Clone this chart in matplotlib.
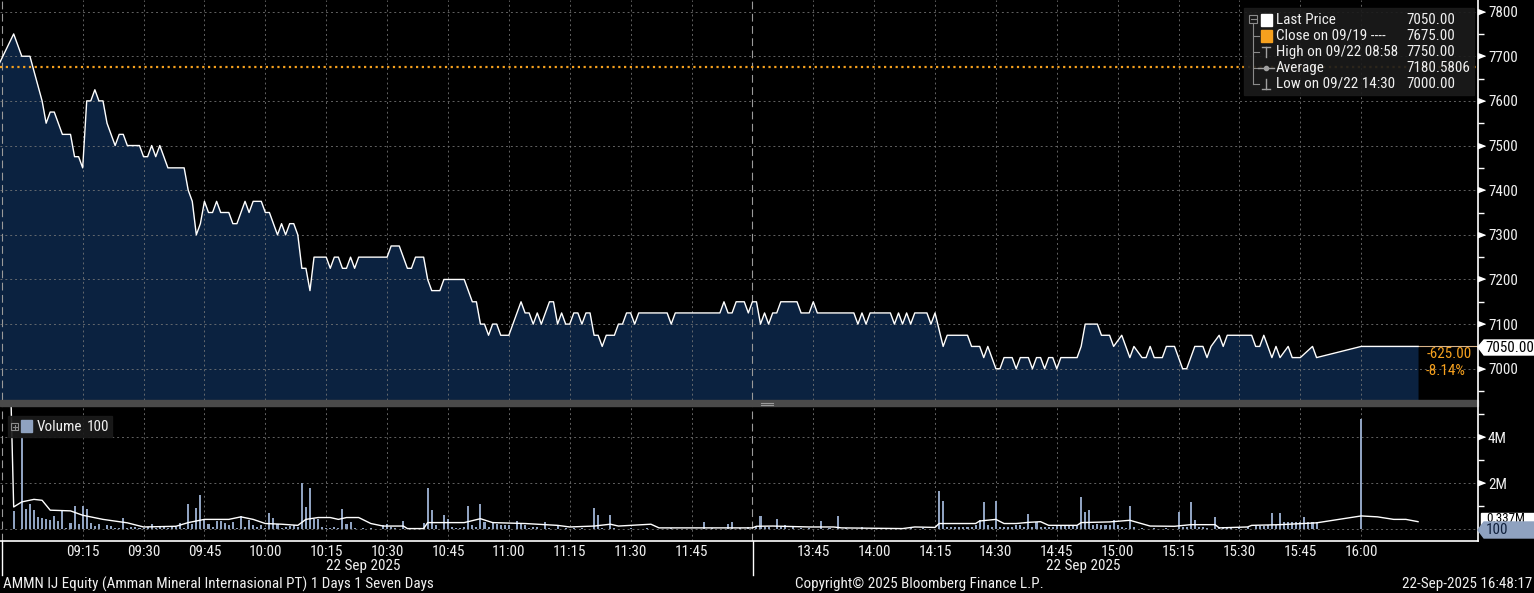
import os
import matplotlib
matplotlib.use("Agg")
import matplotlib.pyplot as plt
import matplotlib.transforms as mtransforms
from matplotlib import font_manager as fm
from matplotlib.patches import Rectangle, Polygon
from matplotlib.lines import Line2D

# ---- values (time, value) ----
price_am = [
    ("08:54", 7675), ("08:58", 7750), ("09:00", 7700), ("09:02", 7700), ("09:05", 7600),
    ("09:06", 7550), ("09:07", 7575), ("09:08", 7575), ("09:10", 7525), ("09:12", 7525),
    ("09:13", 7475), ("09:14", 7475), ("09:15", 7450), ("09:16", 7600), ("09:17", 7600),
    ("09:18", 7625), ("09:19", 7600), ("09:20", 7600), ("09:21", 7550), ("09:23", 7500),
    ("09:24", 7525), ("09:25", 7525), ("09:26", 7500), ("09:29", 7500), ("09:30", 7475),
    ("09:31", 7475), ("09:32", 7500), ("09:33", 7475), ("09:34", 7500), ("09:36", 7450),
    ("09:40", 7450), ("09:41", 7400), ("09:42", 7375), ("09:43", 7300), ("09:44", 7325),
    ("09:45", 7375), ("09:46", 7350), ("09:47", 7350), ("09:48", 7375), ("09:49", 7350),
    ("09:51", 7350), ("09:52", 7325), ("09:53", 7325), ("09:54", 7350), ("09:55", 7375),
    ("09:56", 7350), ("09:57", 7375), ("09:59", 7375), ("10:00", 7350), ("10:01", 7350),
    ("10:03", 7300), ("10:04", 7325), ("10:05", 7300), ("10:06", 7325), ("10:07", 7325),
    ("10:08", 7300), ("10:09", 7225), ("10:10", 7225), ("10:11", 7175), ("10:12", 7250),
    ("10:15", 7250), ("10:16", 7225), ("10:17", 7250), ("10:18", 7250), ("10:19", 7225),
    ("10:20", 7225), ("10:21", 7250), ("10:22", 7225), ("10:23", 7250), ("10:30", 7250),
    ("10:31", 7275), ("10:33", 7275), ("10:35", 7225), ("10:36", 7225), ("10:37", 7250),
    ("10:39", 7250), ("10:40", 7200), ("10:41", 7175), ("10:43", 7175), ("10:44", 7200),
    ("10:49", 7200), ("10:51", 7150), ("10:52", 7150), ("10:53", 7100), ("10:54", 7100),
    ("10:55", 7075), ("10:56", 7100), ("10:57", 7100), ("10:58", 7075), ("11:00", 7075),
    ("11:03", 7150), ("11:04", 7125), ("11:05", 7125), ("11:06", 7100), ("11:07", 7125),
    ("11:08", 7100), ("11:10", 7150), ("11:11", 7150), ("11:12", 7100), ("11:13", 7125),
    ("11:14", 7100), ("11:15", 7100), ("11:16", 7125), ("11:17", 7125), ("11:18", 7100),
    ("11:19", 7125), ("11:20", 7125), ("11:21", 7075), ("11:22", 7075), ("11:23", 7050),
    ("11:24", 7075), ("11:26", 7075), ("11:27", 7100), ("11:28", 7100), ("11:29", 7125),
    ("11:30", 7125), ("11:31", 7100), ("11:32", 7125), ("11:39", 7125), ("11:40", 7100),
    ("11:41", 7125), ("11:52", 7125), ("11:53", 7150), ("11:54", 7125), ("11:55", 7125),
    ("11:56", 7150), ("11:58", 7150), ("11:59", 7125), ("12:00", 7150),
]
price_pm = [
    ("13:31", 7150), ("13:32", 7100), ("13:33", 7125), ("13:34", 7100), ("13:35", 7125),
    ("13:36", 7125), ("13:37", 7150), ("13:41", 7150), ("13:42", 7125), ("13:44", 7125),
    ("13:45", 7150), ("13:46", 7125), ("13:55", 7125), ("13:56", 7100), ("13:57", 7125),
    ("13:58", 7100), ("13:59", 7125), ("14:04", 7125), ("14:05", 7100), ("14:06", 7125),
    ("14:07", 7100), ("14:08", 7125), ("14:09", 7100), ("14:10", 7125), ("14:13", 7125),
    ("14:14", 7100), ("14:15", 7125), ("14:17", 7050), ("14:18", 7075), ("14:23", 7075),
    ("14:24", 7050), ("14:26", 7050), ("14:27", 7025), ("14:28", 7050), ("14:30", 7000),
    ("14:31", 7000), ("14:32", 7025), ("14:34", 7025), ("14:35", 7000), ("14:36", 7025),
    ("14:38", 7025), ("14:39", 7000), ("14:40", 7025), ("14:41", 7025), ("14:42", 7000),
    ("14:43", 7025), ("14:44", 7025), ("14:45", 7000), ("14:46", 7025), ("14:50", 7025),
    ("14:51", 7050), ("14:52", 7100), ("14:55", 7100), ("14:56", 7075), ("14:58", 7075),
    ("14:59", 7050), ("15:01", 7075), ("15:03", 7025), ("15:04", 7050), ("15:06", 7025),
    ("15:07", 7025), ("15:08", 7050), ("15:09", 7025), ("15:11", 7025), ("15:12", 7050),
    ("15:14", 7050), ("15:16", 7000), ("15:17", 7000), ("15:19", 7050), ("15:21", 7050),
    ("15:22", 7025), ("15:23", 7050), ("15:25", 7075), ("15:26", 7050), ("15:27", 7075),
    ("15:33", 7075), ("15:34", 7050), ("15:35", 7050), ("15:36", 7075), ("15:38", 7025),
    ("15:39", 7050), ("15:40", 7025), ("15:42", 7050), ("15:43", 7025), ("15:45", 7025),
    ("15:48", 7050), ("15:49", 7025), ("16:00", 7050), ("16:14", 7050),
]
prev_close = 7675

# volume in millions of shares
vol_am = [
    ("08:58", 0.78), ("09:00", 4.0), ("09:01", 0.87), ("09:02", 1.09), ("09:03", 0.83),
    ("09:04", 0.54), ("09:05", 0.49), ("09:06", 0.43), ("09:07", 0.39), ("09:08", 0.57),
    ("09:09", 0.35), ("09:10", 0.78), ("09:11", 0.05), ("09:12", 0.29), ("09:13", 1.03),
    ("09:14", 0.25), ("09:15", 1.03), ("09:16", 0.9), ("09:17", 0.29), ("09:18", 0.14),
    ("09:19", 0.25), ("09:20", 0.03), ("09:21", 0.2), ("09:22", 0.14), ("09:23", 0.05),
    ("09:24", 0.05), ("09:25", 0.51), ("09:26", 0.05), ("09:27", 0.08), ("09:28", 0.1),
    ("09:29", 0.05), ("09:30", 0.05), ("09:31", 0.08), ("09:32", 0.25), ("09:33", 0.05),
    ("09:34", 0.1), ("09:35", 0.08), ("09:36", 0.05), ("09:37", 0.1), ("09:38", 0.1),
    ("09:39", 0.29), ("09:40", 0.05), ("09:41", 1.12), ("09:42", 0.25), ("09:43", 0.94),
    ("09:44", 1.48), ("09:45", 0.42), ("09:46", 0.25), ("09:47", 0.1), ("09:48", 0.36),
    ("09:49", 0.36), ("09:50", 0.29), ("09:51", 0.18), ("09:52", 0.32), ("09:53", 0.05),
    ("09:54", 0.57), ("09:55", 0.1), ("09:56", 0.42), ("09:57", 0.2), ("09:58", 0.1),
    ("09:59", 0.18), ("10:00", 0.05), ("10:01", 0.72), ("10:02", 0.5), ("10:03", 0.25),
    ("10:04", 0.06), ("10:05", 0.1), ("10:06", 0.13), ("10:07", 0.18), ("10:08", 0.1),
    ("10:09", 2.0), ("10:10", 0.97), ("10:11", 1.8), ("10:12", 0.46), ("10:13", 0.46),
    ("10:14", 0.1), ("10:15", 0.05), ("10:16", 0.05), ("10:17", 0.1), ("10:18", 0.05),
    ("10:19", 0.87), ("10:20", 0.25), ("10:21", 0.3), ("10:22", 0.05), ("10:24", 0.05),
    ("10:26", 0.05), ("10:29", 0.2), ("10:30", 0.25), ("10:31", 0.1), ("10:32", 0.05),
    ("10:34", 0.36), ("10:36", 0.03), ("10:38", 0.03), ("10:39", 0.29), ("10:40", 1.81),
    ("10:41", 0.83), ("10:42", 0.2), ("10:44", 0.6), ("10:45", 0.46), ("10:46", 0.1),
    ("10:47", 0.05), ("10:48", 0.05), ("10:49", 0.08), ("10:50", 1.0), ("10:51", 0.2),
    ("10:52", 0.1), ("10:53", 1.09), ("10:54", 0.3), ("10:55", 0.1), ("10:56", 0.3),
    ("10:57", 0.25), ("10:58", 0.2), ("10:59", 0.2), ("11:00", 0.2), ("11:02", 0.36),
    ("11:03", 0.25), ("11:04", 0.2), ("11:05", 0.05), ("11:06", 0.1), ("11:07", 0.1),
    ("11:09", 0.3), ("11:10", 0.05), ("11:12", 0.2), ("11:14", 0.05), ("11:16", 0.05),
    ("11:18", 0.05), ("11:21", 0.94), ("11:22", 0.6), ("11:23", 0.05), ("11:25", 0.6),
    ("11:26", 0.05), ("11:30", 0.05), ("11:34", 0.05), ("11:40", 0.05), ("11:48", 0.3),
    ("11:50", 0.05), ("11:54", 0.25), ("11:55", 0.3), ("11:57", 0.05), ("11:59", 0.08),
]
vol_pm = [
    ("13:31", 0.1), ("13:32", 0.57), ("13:33", 0.08), ("13:34", 0.1), ("13:36", 0.46),
    ("13:37", 0.1), ("13:38", 0.2), ("13:40", 0.1), ("13:42", 0.05), ("13:44", 0.05),
    ("13:47", 0.36), ("13:49", 0.05), ("13:51", 0.57), ("13:53", 0.05), ("13:57", 0.1),
    ("14:00", 0.05), ("14:03", 0.05), ("14:06", 0.05), ("14:09", 0.05), ("14:12", 0.05),
    ("14:16", 1.67), ("14:17", 1.23), ("14:18", 0.1), ("14:19", 0.1), ("14:20", 0.08),
    ("14:21", 0.08), ("14:22", 0.08), ("14:23", 0.1), ("14:24", 0.1), ("14:25", 0.2),
    ("14:26", 0.39), ("14:27", 1.17), ("14:28", 0.2), ("14:29", 0.1), ("14:30", 1.23),
    ("14:31", 0.1), ("14:32", 0.08), ("14:33", 0.08), ("14:34", 0.1), ("14:35", 0.17),
    ("14:36", 0.2), ("14:37", 0.1), ("14:38", 0.65), ("14:39", 0.1), ("14:40", 0.3),
    ("14:41", 0.1), ("14:42", 0.08), ("14:43", 0.08), ("14:44", 0.1), ("14:45", 0.15),
    ("14:46", 0.15), ("14:47", 0.15), ("14:48", 0.15), ("14:49", 0.15), ("14:50", 0.15),
    ("14:51", 1.4), ("14:52", 0.75), ("14:53", 0.84), ("14:54", 0.2), ("14:55", 0.25),
    ("14:56", 0.2), ("14:57", 0.2), ("14:58", 0.2), ("14:59", 0.39), ("15:00", 0.2),
    ("15:01", 0.1), ("15:02", 0.05), ("15:03", 1.0), ("15:04", 0.08), ("15:06", 0.05),
    ("15:09", 0.05), ("15:12", 0.05), ("15:15", 0.75), ("15:16", 0.1), ("15:17", 0.08),
    ("15:18", 1.17), ("15:19", 0.4), ("15:20", 0.1), ("15:21", 0.08), ("15:22", 0.05),
    ("15:24", 0.53), ("15:25", 0.1), ("15:26", 0.1), ("15:27", 0.1), ("15:28", 0.08),
    ("15:30", 0.08), ("15:32", 0.1), ("15:34", 0.2), ("15:35", 0.15), ("15:36", 0.15),
    ("15:37", 0.2), ("15:38", 0.7), ("15:39", 0.2), ("15:40", 0.7), ("15:41", 0.3),
    ("15:42", 0.3), ("15:43", 0.3), ("15:44", 0.3), ("15:45", 0.3), ("15:46", 0.53),
    ("15:47", 0.3), ("15:48", 0.3), ("15:49", 0.3), ("16:00", 4.8),
]
# volume moving average line
vol_avg = [
    ("08:57", 8.0), ("08:58", 0.97), ("09:00", 1.19), ("09:03", 1.3), ("09:05", 1.26),
    ("09:07", 0.83), ("09:12", 0.8), ("09:15", 0.61), ("09:20", 0.43), ("09:26", 0.28),
    ("09:30", 0.1), ("09:38", 0.13), ("09:41", 0.29), ("09:45", 0.43), ("09:51", 0.43),
    ("09:54", 0.54), ("09:57", 0.43), ("10:00", 0.25), ("10:04", 0.22), ("10:08", 0.17),
    ("10:10", 0.43), ("10:13", 0.51), ("10:16", 0.51), ("10:18", 0.43), ("10:20", 0.51),
    ("10:23", 0.51), ("10:26", 0.25), ("10:29", 0.14), ("10:34", 0.14), ("10:35", 0.03),
    ("10:39", 0.03), ("10:40", 0.29), ("10:49", 0.29), ("10:53", 0.46), ("10:56", 0.29),
    ("11:04", 0.25), ("11:12", 0.17), ("11:15", 0.1), ("11:21", 0.14), ("11:25", 0.22),
    ("11:27", 0.14), ("11:35", 0.22), ("11:37", 0.06), ("12:00", 0.06), ("13:31", 0.13),
    ("13:35", 0.14), ("13:44", 0.1), ("13:50", 0.1), ("13:52", 0.06), ("14:07", 0.03),
    ("14:10", 0.1), ("14:15", 0.08), ("14:16", 0.25), ("14:25", 0.25), ("14:26", 0.36),
    ("14:30", 0.43), ("14:32", 0.25), ("14:35", 0.25), ("14:38", 0.3), ("14:41", 0.33),
    ("14:43", 0.17), ("14:50", 0.17), ("14:51", 0.29), ("14:58", 0.32), ("15:03", 0.39),
    ("15:08", 0.14), ("15:14", 0.13), ("15:18", 0.2), ("15:24", 0.2), ("15:25", 0.06),
    ("15:32", 0.1), ("15:33", 0.17), ("15:40", 0.2), ("15:49", 0.28), ("16:00", 0.58),
    ("16:04", 0.54), ("16:08", 0.43), ("16:11", 0.43), ("16:14", 0.33),
]

tick_times = ["09:15", "09:30", "09:45", "10:00", "10:15", "10:30", "10:45", "11:00",
              "11:15", "11:30", "11:45", "13:45", "14:00", "14:15", "14:30", "14:45",
              "15:00", "15:15", "15:30", "15:45", "16:00"]
session_marks = ["08:55", "12:00"]
price_ticks = [7000, 7100, 7200, 7300, 7400, 7500, 7600, 7700, 7800]
vol_ticks = [2, 4]

legend_rows = [("Last Price", "7050.00"), ("Close on 09/19 ----", "7675.00"),
               ("High on 09/22 08:58", "7750.00"), ("Average", "7180.5806"),
               ("Low on 09/22 14:30", "7000.00")]

# colours
BG = "black"
FILL = "#0b2240"
ORANGE = "#f5a01e"
VOLC = "#8fa2c0"
GRID = "#7a7a7a"
TXT = "#f0f0f0"


# pick a narrow sans if one is installed, else Liberation Sans a bit smaller
def pick_font():
    fonts = fm.fontManager.ttflist
    for want in ("Liberation Sans Narrow", "Roboto Condensed", "Open Sans Condensed"):
        for f in fonts:
            if f.name == want and f.style == "normal" and f.weight in (400, "normal", "regular"):
                return {"family": [f.name, "DejaVu Sans"]}, 10.9
    for f in fonts:
        if os.path.basename(f.fname).lower() == "dejavusanscondensed.ttf":
            return {"family": ["DejaVu Sans"], "stretch": "condensed"}, 10
    return {"family": ["Liberation Sans", "DejaVu Sans"]}, 9.3


font_cfg, FS = pick_font()
plt.rcParams["font.family"] = font_cfg["family"]
if "stretch" in font_cfg:
    plt.rcParams["font.stretch"] = font_cfg["stretch"]


def pos(t):
    # trading-minute axis: lunch break (12:00-13:30) collapsed
    h, m = (int(p) for p in t.split(":"))
    mins = h * 60 + m
    if mins <= 12 * 60:
        return mins - 9 * 60
    return 180 + mins - (13 * 60 + 30)


W, H = 1534, 593


def fx(px):
    return px / W


def fy(py):
    return 1 - py / H


XLIM = (-5.37, 358.65)

fig = plt.figure(figsize=(W / 100, H / 100), dpi=100, facecolor=BG)
ax = fig.add_axes([0, fy(400), fx(1477.5), 400 / H], facecolor=BG)
axv = fig.add_axes([0, fy(541), fx(1477.5), 135 / H], facecolor=BG)

# ---------------- price panel ----------------
pts = price_am + price_pm
px_ = [pos(t) for t, _ in pts]
pv_ = [v for _, v in pts]
ylo, yhi = 6930, 7826
ax.fill_between(px_, pv_, ylo, color=FILL, lw=0, zorder=1)
ax.plot(px_, pv_, color="white", lw=1.0, zorder=4)
ax.plot([px_[-1], XLIM[1]], [pv_[-1], pv_[-1]], color="#d8b48a", lw=0.8, zorder=3)
ax.axhline(prev_close, color=ORANGE, lw=1.6, ls=(0, (1, 1.6)), zorder=3)

for t in tick_times:
    ax.axvline(pos(t), color=GRID, lw=0.7, ls=(0, (2, 3)), alpha=0.8, zorder=2)
    axv.axvline(pos(t), color=GRID, lw=0.7, ls=(0, (2, 3)), alpha=0.8, zorder=2)
for t in session_marks:
    ax.axvline(pos(t), color="#9a9a9a", lw=0.8, ls=(0, (7, 4)), zorder=2)
    axv.axvline(pos(t), color="#9a9a9a", lw=0.8, ls=(0, (7, 4)), zorder=2)
for v in price_ticks:
    ax.axhline(v, color=GRID, lw=0.7, ls=(0, (2, 3)), alpha=0.8, zorder=2)

ax.set_xlim(*XLIM)
ax.set_ylim(ylo, yhi)
ax.set_xticks([])
ax.yaxis.tick_right()
ax.set_yticks(price_ticks)
ax.set_yticks([v + 50 for v in [6900] + price_ticks[:-1]], minor=True)
ax.tick_params(axis="y", which="major", length=0, pad=7.5, labelsize=FS, labelcolor=TXT)
ax.tick_params(axis="y", which="minor", length=4, width=1, color="white")
for s in ax.spines.values():
    s.set_visible(False)

tri = [(0, -0.55), (0, 0.55), (1.4, 0)]
bl = mtransforms.blended_transform_factory(ax.transAxes, ax.transData)
ax.plot([1] * len(price_ticks), price_ticks, ls="none", marker=tri, ms=10,
        color="white", transform=bl, clip_on=False)

# ---------------- volume panel ----------------
vpts = vol_am + vol_pm
axv.bar([pos(t) for t, _ in vpts], [v for _, v in vpts], width=0.5,
        color=VOLC, lw=0, zorder=3)
axv.plot([pos(t) for t, _ in vol_avg], [v for _, v in vol_avg], color="white",
         lw=1.0, zorder=4)
for v in [0] + vol_ticks:
    axv.axhline(v, color=GRID, lw=0.7, ls=(0, (2, 3)), alpha=0.8, zorder=2)
axv.set_xlim(*XLIM)
axv.set_ylim(-0.51, 5.36)
axv.yaxis.tick_right()
axv.set_yticks(vol_ticks)
axv.set_yticklabels([f"{v}M" for v in vol_ticks])
axv.set_yticks([1, 3, 5], minor=True)
axv.tick_params(axis="y", which="major", length=0, pad=7.5, labelsize=FS, labelcolor=TXT)
axv.tick_params(axis="y", which="minor", length=4, width=1, color="white")
blv = mtransforms.blended_transform_factory(axv.transAxes, axv.transData)
axv.plot([1] * len(vol_ticks), vol_ticks, ls="none", marker=tri, ms=10,
         color="white", transform=blv, clip_on=False)
axv.set_xticks([pos(t) for t in tick_times])
axv.set_xticklabels(tick_times)
axv.tick_params(axis="x", length=0, pad=3, labelsize=FS, labelcolor=TXT)
for k, s in axv.spines.items():
    s.set_visible(k == "bottom")
    s.set_color("white")
    s.set_linewidth(1.2)

# ---------------- decorations ----------------
fig.add_artist(Rectangle((0, fy(406)), fx(1477.5), 6 / H, transform=fig.transFigure,
                         color="#4a4a4a", zorder=5))
for yy in (402.5, 404.5):
    fig.add_artist(Line2D([fx(761), fx(773)], [fy(yy), fy(yy)], color="#9a9a9a", lw=0.8, zorder=6))
fig.add_artist(Line2D([fx(1477.5), fx(1477.5)], [fy(0), fy(541)], color="white", lw=1.2, zorder=7))
for xx in (2, 752.5):
    fig.add_artist(Line2D([fx(xx), fx(xx)], [fy(541), fy(575)], color="white", lw=1.0, zorder=7))

fig.text(fx(363), fy(566), "22 Sep 2025", color=TXT, fontsize=FS, ha="center", va="center")
fig.text(fx(1083), fy(566), "22 Sep 2025", color=TXT, fontsize=FS, ha="center", va="center")
fig.text(fx(3), fy(584), "AMMN IJ Equity (Amman Mineral Internasional PT) 1 Days 1 Seven Days",
         color=TXT, fontsize=FS, ha="left", va="center")
fig.text(fx(795), fy(584), "Copyright\u00a9 2025 Bloomberg Finance L.P.", color=TXT,
         fontsize=FS, ha="left", va="center")
fig.text(fx(1532), fy(584), "22-Sep-2025 16:48:17", color=TXT, fontsize=FS,
         ha="right", va="center")

# last price tag and change
fig.add_artist(Polygon([(fx(1478), fy(347)), (fx(1484), fy(340)), (fx(1534), fy(340)),
                        (fx(1534), fy(355)), (fx(1484), fy(355))], closed=True,
                       transform=fig.transFigure, color="white", zorder=8))
fig.text(fx(1485), fy(347.5), "7050.00", color="black", fontsize=FS, ha="left",
         va="center", zorder=9)
fig.text(fx(1472), fy(354.5), "-625.00", color=ORANGE, fontsize=FS, ha="right", va="center")
fig.text(fx(1466), fy(371), "-8.14%", color=ORANGE, fontsize=FS, ha="right", va="center")

# volume tags
fig.add_artist(Rectangle((fx(1481), fy(527)), fx(53), 14 / H, transform=fig.transFigure,
                         color="white", zorder=8))
fig.text(fx(1486), fy(518), "0.337M", color="black", fontsize=FS - 1.5, ha="left",
         va="center", zorder=9)
fig.add_artist(Polygon([(fx(1478), fy(530)), (fx(1484), fy(522)), (fx(1534), fy(522)),
                        (fx(1534), fy(538)), (fx(1484), fy(538))], closed=True,
                       transform=fig.transFigure, color=VOLC, zorder=10))
fig.text(fx(1486), fy(530), "100", color="#10203c", fontsize=FS, ha="left",
         va="center", zorder=11)

# price legend box
fig.add_artist(Rectangle((fx(1244), fy(95)), fx(230), 87 / H, transform=fig.transFigure,
                         color="#1b1b1b", alpha=0.92, zorder=8))
row_y = [20, 36, 52, 68, 84]
for (lab, val), yy in zip(legend_rows, row_y):
    fig.text(fx(1276), fy(yy), lab, color=TXT, fontsize=FS, ha="left", va="center", zorder=9)
    fig.text(fx(1406), fy(yy), val, color=TXT, fontsize=FS, ha="left", va="center", zorder=9)
tree = "#8a8a8a"
fig.add_artist(Rectangle((fx(1249), fy(23)), fx(8), 8 / H, transform=fig.transFigure,
                         fill=False, ec=tree, lw=0.8, zorder=9))
fig.add_artist(Line2D([fx(1250.5), fx(1255.5)], [fy(19), fy(19)], color=tree, lw=0.8, zorder=9))
fig.add_artist(Line2D([fx(1253), fx(1253)], [fy(23), fy(84)], color=tree, lw=0.8, zorder=9))
for yy in row_y[1:]:
    fig.add_artist(Line2D([fx(1253), fx(1259)], [fy(yy), fy(yy)], color=tree, lw=0.8, zorder=9))
fig.add_artist(Rectangle((fx(1261), fy(25.5)), fx(11), 11 / H, transform=fig.transFigure,
                         color="white", zorder=9))
fig.add_artist(Rectangle((fx(1261), fy(41.5)), fx(11), 11 / H, transform=fig.transFigure,
                         color=ORANGE, zorder=9))
icon = "#a0a0a0"
fig.add_artist(Line2D([fx(1262), fx(1270)], [fy(47), fy(47)], color=icon, lw=1, zorder=9))
fig.add_artist(Line2D([fx(1266), fx(1266)], [fy(47), fy(57)], color=icon, lw=1, zorder=9))
fig.add_artist(Line2D([fx(1258), fx(1274)], [fy(68), fy(68)], color=icon, lw=1, zorder=9))
fig.add_artist(Line2D([fx(1266)], [fy(68)], color=icon, marker="o", ms=3, zorder=9))
fig.add_artist(Line2D([fx(1266), fx(1266)], [fy(79), fy(89)], color=icon, lw=1, zorder=9))
fig.add_artist(Line2D([fx(1262), fx(1270)], [fy(89), fy(89)], color=icon, lw=1, zorder=9))

# volume legend box
fig.add_artist(Rectangle((fx(8), fy(437)), fx(104), 21 / H, transform=fig.transFigure,
                         color="#1b1b1b", alpha=0.92, zorder=8))
fig.add_artist(Rectangle((fx(11), fy(430)), fx(7), 7 / H, transform=fig.transFigure,
                         fill=False, ec=tree, lw=0.8, zorder=9))
fig.add_artist(Line2D([fx(12.5), fx(16.5)], [fy(426.5), fy(426.5)], color=tree, lw=0.8, zorder=9))
fig.add_artist(Line2D([fx(14.5), fx(14.5)], [fy(424.5), fy(428.5)], color=tree, lw=0.8, zorder=9))
fig.add_artist(Rectangle((fx(21), fy(432)), fx(11), 12 / H, transform=fig.transFigure,
                         color=VOLC, zorder=9))
fig.text(fx(37), fy(427), "Volume", color=TXT, fontsize=FS, ha="left", va="center", zorder=9)
fig.text(fx(87), fy(427), "100", color=TXT, fontsize=FS, ha="left", va="center", zorder=9)

fig.savefig("out.png", dpi=100, facecolor=BG)
